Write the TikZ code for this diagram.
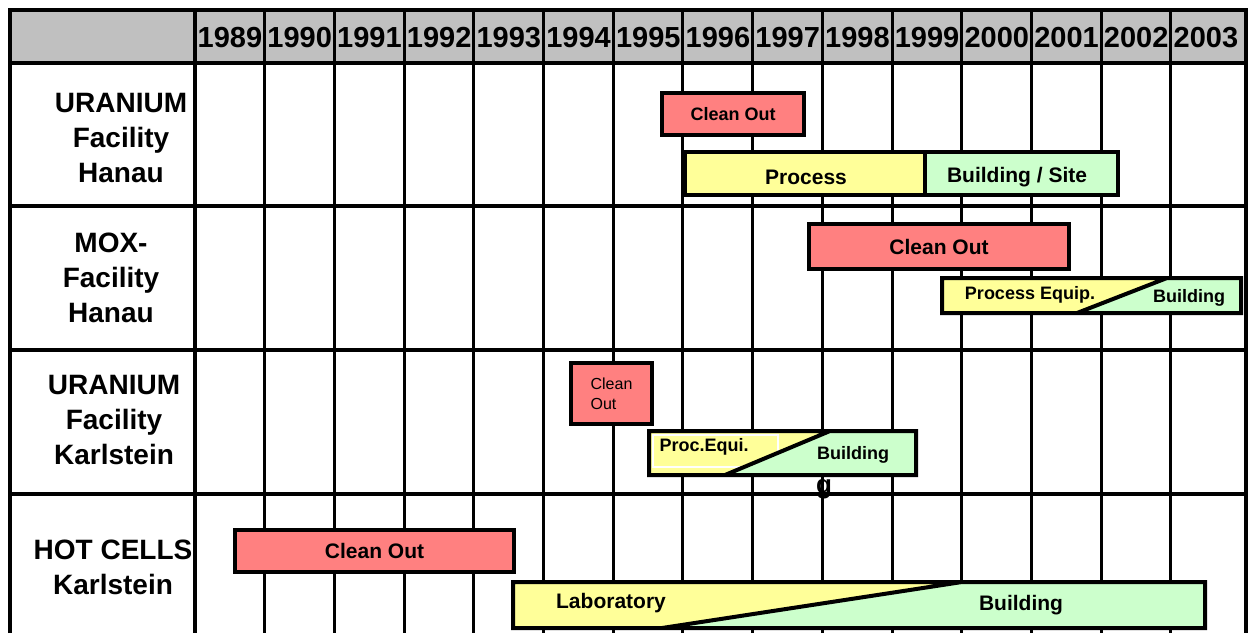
\documentclass[tikz,border=0pt]{standalone}
\usepackage{fontspec}
\setmainfont{Liberation Sans}
\usepackage{xcolor}
\usepackage{tikz}
\usetikzlibrary{positioning}

\definecolor{headgray}{HTML}{C0C0C0}
\definecolor{cleanred}{HTML}{FF8080}
\definecolor{procyellow}{HTML}{FFFF99}
\definecolor{buildgreen}{HTML}{CCFFCC}

\begin{document}
\begin{tikzpicture}[
    x=0.5pt, y=-0.5pt,
    gridline/.style={line width=1.5pt},
    frame/.style={line width=2.2pt},
    bar/.style={draw=black, line width=2pt},
    redbar/.style={bar, fill=cleanred, inner sep=0pt},
    yearlab/.style={font=\fontsize{14.5}{17}\selectfont\bfseries, inner sep=0pt},
    rowlab/.style={font=\fontsize{14}{17.5}\selectfont\bfseries, align=center, inner sep=0pt},
    biglab/.style={font=\fontsize{10.5}{12}\selectfont\bfseries, inner sep=0pt},
    smalllab/.style={font=\fontsize{9}{11}\selectfont\bfseries, inner sep=0pt}
]
\useasboundingbox (0,0) rectangle (1252,633);

% table
\fill[headgray] (10,10) rectangle (1246,63);
\foreach \i in {1,...,14}
    \draw[gridline] ({195+69.71*\i},10) -- ({195+69.71*\i},633);
\foreach \yr [count=\i from 0] in {1989,...,2003}
    \node[yearlab] (y\yr) at ({230+69.71*\i},38) {\yr};
\foreach \yy in {63,206,350,494}
    \draw[frame] (10,\yy) -- (1246,\yy);
\draw[frame] (10,633) -- (10,10) -- (1246,10) -- (1246,633);
\draw[frame] (195,10) -- (195,633);

% row labels
\node[rowlab] (uHanau) at (121,138) {URANIUM\\Facility\\Hanau};
\node[rowlab] (mHanau) at (111,278) {MOX-\\Facility\\Hanau};
\node[rowlab] (uKarl) at (114,420) {URANIUM\\Facility\\Karlstein};
\node[rowlab] (hKarl) at (113,567) {HOT CELLS\\Karlstein};

% uranium hanau
\node[redbar, smalllab, minimum width=71pt, minimum height=21pt] (uhClean) at (733,114) {Clean Out};
\fill[procyellow] (685,152) rectangle (925,195);
\fill[buildgreen] (925,152) rectangle (1118,195);
\draw[bar] (685,152) rectangle (1118,195) (925,152) -- (925,195);
\node[biglab] (uhProc) at (806,177) {Process};
\node[biglab] (uhSite) at (1017,177) {Building / Site};

% mox hanau
\node[redbar, biglab, minimum width=130pt, minimum height=22.5pt] (mhClean) at (939,246.5) {Clean Out};
\fill[procyellow] (942,278) -- (1167,278) -- (1077,313) -- (942,313) -- cycle;
\fill[buildgreen] (1167,278) -- (1241,278) -- (1241,313) -- (1077,313) -- cycle;
\draw[bar] (942,278) rectangle (1241,313) (1077,313) -- (1167,278);
\node[smalllab] (mhProc) at (1030,295) {Process Equip.};
\node[smalllab] (mhBuild) at (1189,298) {Building};

% uranium karlstein
\node[redbar, minimum width=40.5pt, minimum height=30.5pt, align=left,
      font=\fontsize{8}{10}\selectfont] (ukClean) at (611.5,393.5) {Clean\\Out};
\fill[procyellow] (649,431) -- (830,431) -- (725,475) -- (649,475) -- cycle;
\draw[white, line width=0.6pt] (653,435) rectangle (778,467);
\fill[buildgreen] (830,431) -- (916,431) -- (916,475) -- (725,475) -- cycle;
\draw[bar] (649,431) rectangle (916,475) (725,475) -- (830,431);
\node[smalllab] (ukProc) at (704,447) {Proc.Equi.};
\node[smalllab] (ukBuild) at (853,455) {Building};
\node[font=\fontsize{13}{15}\selectfont\bfseries, anchor=base, inner sep=0pt] (ukStray) at (824,493) {g};

% hot cells karlstein
\node[redbar, biglab, minimum width=139.5pt, minimum height=21pt] (hkClean) at (374.5,551) {Clean Out};
\fill[procyellow] (513,582) -- (962,582) -- (662,628) -- (513,628) -- cycle;
\fill[buildgreen] (962,582) -- (1205,582) -- (1205,628) -- (662,628) -- cycle;
\draw[bar] (513,582) rectangle (1205,628) (662,628) -- (962,582);
\node[biglab] (hkLab) at (611,603) {Laboratory};
\node[biglab] (hkBuild) at (1021,605) {Building};
\end{tikzpicture}
\end{document}
